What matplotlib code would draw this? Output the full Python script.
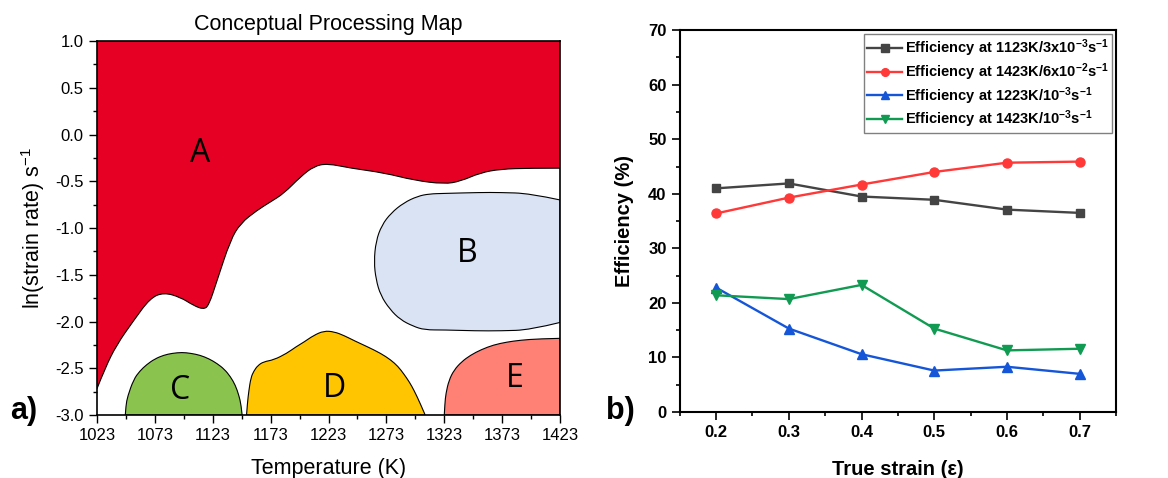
import matplotlib
matplotlib.use("Agg")
import matplotlib.pyplot as plt
from matplotlib.path import Path
from matplotlib.patches import PathPatch
from matplotlib.ticker import MultipleLocator, FixedLocator

plt.rcParams['font.family'] = ['Liberation Sans', 'DejaVu Sans']
plt.rcParams['axes.unicode_minus'] = False
plt.rcParams['mathtext.fontset'] = 'custom'
plt.rcParams['mathtext.rm'] = 'Liberation Sans'
plt.rcParams['mathtext.bf'] = 'Liberation Sans:bold'

# ---------------- Panel a data (region boundaries, K / ln s^-1) ----------------
A_x = [1023, 1030, 1040, 1054.7, 1069, 1080.7, 1095, 1106.6, 1115, 1119.6, 1126.8,
       1138.3, 1147, 1161.4, 1173, 1184.5, 1199, 1210.4, 1222, 1242, 1271, 1297,
       1323, 1337, 1354, 1371.6, 1397, 1423]
A_y = [-2.72, -2.50, -2.25, -1.99, -1.75, -1.69, -1.74, -1.83, -1.87, -1.83, -1.56,
       -1.13, -0.95, -0.81, -0.72, -0.63, -0.45, -0.34, -0.31, -0.36, -0.41, -0.49,
       -0.53, -0.50, -0.41, -0.37, -0.36, -0.36]

B_x = [1423, 1397, 1371, 1354, 1323, 1310, 1300, 1288, 1277, 1269, 1264, 1262.3,
       1264, 1268, 1276, 1285, 1296, 1306, 1323, 1350, 1372, 1397, 1423]
B_y = [-0.70, -0.63, -0.62, -0.62, -0.63, -0.635, -0.66, -0.73, -0.84, -0.97, -1.14, -1.36,
       -1.55, -1.72, -1.87, -1.98, -2.05, -2.09, -2.09, -2.10, -2.10, -2.09, -2.01]

C_x = [1047.5, 1048, 1049.5, 1054.7, 1060, 1066, 1073, 1080.7, 1088, 1096.5, 1104,
       1112, 1120, 1126.8, 1133, 1138.3, 1142.5, 1145.6, 1147.5, 1148.4]
C_y = [-3.0, -2.90, -2.80, -2.62, -2.53, -2.46, -2.40, -2.36, -2.34, -2.33, -2.34,
       -2.36, -2.40, -2.45, -2.51, -2.59, -2.68, -2.79, -2.89, -3.0]

D_x = [1152.2, 1153, 1154.2, 1156, 1158.5, 1162, 1167, 1175.8, 1187, 1195, 1201.8,
       1210, 1219, 1228, 1236.4, 1246, 1256.6, 1268, 1276.7, 1283, 1288, 1293, 1297,
       1302, 1306.5]
D_y = [-3.0, -2.87, -2.74, -2.60, -2.53, -2.47, -2.43, -2.41, -2.34, -2.27, -2.22,
       -2.15, -2.10, -2.11, -2.15, -2.21, -2.27, -2.34, -2.41, -2.48, -2.56, -2.65, -2.74,
       -2.87, -3.0]

E_x = [1323, 1323.5, 1324.4, 1327, 1331.4, 1338, 1345.7, 1355, 1365.7, 1377, 1388.6,
       1405, 1423]
E_y = [-3.0, -2.88, -2.77, -2.63, -2.52, -2.43, -2.36, -2.30, -2.25, -2.22, -2.20,
       -2.185, -2.18]

region_labels = ['A', 'B', 'C', 'D', 'E']
label_x = [1112, 1343, 1095, 1228, 1384]
label_y = [-0.2, -1.27, -2.74, -2.72, -2.61]

temp_ticks = [1023, 1073, 1123, 1173, 1223, 1273, 1323, 1373, 1423]

# ---------------- Panel b data ----------------
strain = [0.2, 0.3, 0.4, 0.5, 0.6, 0.7]
eff_1123_3e3 = [41.0, 41.9, 39.5, 38.9, 37.1, 36.5]
eff_1423_6e2 = [36.4, 39.3, 41.7, 44.0, 45.7, 45.9]
eff_1223_1e3 = [22.8, 15.3, 10.6, 7.6, 8.3, 7.0]
eff_1423_1e3 = [21.4, 20.7, 23.3, 15.3, 11.3, 11.6]
series_labels = [
    r'Efficiency at 1123K/3x10$\mathbf{^{-3}}$s$\mathbf{^{-1}}$',
    r'Efficiency at 1423K/6x10$\mathbf{^{-2}}$s$\mathbf{^{-1}}$',
    r'Efficiency at 1223K/10$\mathbf{^{-3}}$s$\mathbf{^{-1}}$',
    r'Efficiency at 1423K/10$\mathbf{^{-3}}$s$\mathbf{^{-1}}$',
]


def smooth_path_parts(xs, ys):
    """Vertices/codes of a quadratic-Bezier chain through the given boundary points
    (passes through the first, last, and midpoints; the points act as controls)."""
    pts = list(zip(xs, ys))
    verts = [pts[0]]
    codes = [Path.MOVETO]
    for i in range(1, len(pts) - 1):
        mid = ((pts[i][0] + pts[i + 1][0]) / 2, (pts[i][1] + pts[i + 1][1]) / 2)
        if i == len(pts) - 2:
            mid = pts[-1]
        verts += [pts[i], mid]
        codes += [Path.CURVE3, Path.CURVE3]
    return verts, codes


def region_patch(xs, ys, extra_pts, **kw):
    verts, codes = smooth_path_parts(xs, ys)
    for p in extra_pts:
        verts.append(p)
        codes.append(Path.LINETO)
    verts.append(verts[0])
    codes.append(Path.CLOSEPOLY)
    return PathPatch(Path(verts, codes), **kw)


def curve_patch(xs, ys, **kw):
    verts, codes = smooth_path_parts(xs, ys)
    return PathPatch(Path(verts, codes), fill=False, **kw)


fig = plt.figure(figsize=(11.68, 4.78), dpi=100)

# ---------------- Panel a ----------------
ax1 = fig.add_axes([0.083, 0.1318, 0.3965, 0.7824])
ax1.add_patch(region_patch(A_x, A_y, [(1423, 1.0), (1023, 1.0)],
                           facecolor='#E60023', edgecolor='none', zorder=1))
ax1.add_patch(curve_patch(A_x, A_y, edgecolor='black', lw=0.8, zorder=2))
ax1.add_patch(region_patch(B_x, B_y, [], facecolor='#DAE3F3', edgecolor='black', lw=0.8, zorder=2))
ax1.add_patch(region_patch(C_x, C_y, [], facecolor='#8BC34F', edgecolor='black', lw=0.8, zorder=2))
ax1.add_patch(region_patch(D_x, D_y, [], facecolor='#FFC500', edgecolor='black', lw=0.8, zorder=2))
ax1.add_patch(region_patch(E_x, E_y, [(1423, -3.0)], facecolor='#FF8075',
                           edgecolor='black', lw=0.8, zorder=2))
for lab, lx, ly in zip(region_labels, label_x, label_y):
    ax1.text(lx, ly, lab, fontsize=23, ha='center', va='center',
             family=['Open Sans', 'DejaVu Sans'], zorder=3)

ax1.set_xlim(1023, 1423)
ax1.set_ylim(-3.0, 1.0)
ax1.xaxis.set_major_locator(FixedLocator(temp_ticks))
ax1.set_xticks([t + 25 for t in temp_ticks[:-1]], minor=True)
ax1.yaxis.set_major_locator(MultipleLocator(0.5))
ax1.yaxis.set_minor_locator(MultipleLocator(0.25))
ax1.tick_params(which='major', direction='out', length=6, width=1, labelsize=12)
ax1.tick_params(which='minor', direction='out', length=3, width=1)
for s in ax1.spines.values():
    s.set_linewidth(1.2)
    s.set_zorder(5)
ax1.set_xlabel('Temperature (K)', fontsize=15.5, labelpad=11)
ax1.set_ylabel(r'ln(strain rate) s$^{-1}$', fontsize=15.5, labelpad=6)
ax1.set_title('Conceptual Processing Map', fontsize=15.5, pad=8)
fig.text(0.009, 0.14, 'a)', fontsize=22, fontweight='bold', va='center')

# ---------------- Panel b ----------------
ax2 = fig.add_axes([0.582, 0.138, 0.3735, 0.799])
ax2.plot(strain, eff_1123_3e3, color='#444444', marker='s', ms=6, lw=1.7, label=series_labels[0])
ax2.plot(strain, eff_1423_6e2, color='#FF3838', marker='o', ms=6.5, lw=1.7, label=series_labels[1])
ax2.plot(strain, eff_1223_1e3, color='#1556D8', marker='^', ms=7.5, lw=1.7, label=series_labels[2])
ax2.plot(strain, eff_1423_1e3, color='#119B52', marker='v', ms=7.5, lw=1.7, label=series_labels[3])
ax2.set_xlim(0.15, 0.75)
ax2.set_ylim(0, 70)
ax2.xaxis.set_major_locator(FixedLocator(strain))
ax2.xaxis.set_minor_locator(MultipleLocator(0.05))
ax2.yaxis.set_major_locator(MultipleLocator(10))
ax2.yaxis.set_minor_locator(MultipleLocator(5))
ax2.tick_params(which='major', direction='out', length=6, width=1.2, labelsize=12)
ax2.tick_params(which='minor', direction='out', length=3, width=1.2)
for lbl in ax2.get_xticklabels() + ax2.get_yticklabels():
    lbl.set_fontweight('bold')
for s in ax2.spines.values():
    s.set_linewidth(1.5)
ax2.set_xlabel('True strain (ε)', fontsize=14.5, fontweight='bold', labelpad=14)
ax2.set_ylabel('Efficiency (%)', fontsize=14.5, fontweight='bold', labelpad=10)
leg = ax2.legend(loc='upper right', fancybox=False, framealpha=1, edgecolor='#808080',
                 prop={'weight': 'bold', 'size': 10.5}, handlelength=2.4, handletextpad=0.2,
                 labelspacing=0.15, borderaxespad=0.3, borderpad=0.2, markerscale=0.85)
leg.get_frame().set_linewidth(1.0)
fig.text(0.519, 0.14, 'b)', fontsize=22, fontweight='bold', va='center')

fig.savefig('out.png', dpi=100)
